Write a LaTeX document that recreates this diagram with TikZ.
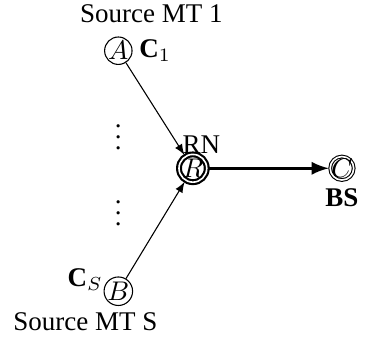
\documentclass[tikz,border=0pt]{standalone}
\usepackage{fontspec}
\setmainfont{Liberation Serif}
\usetikzlibrary{positioning, automata}

\begin{document}
\begin{tikzpicture}[>=latex, every state/.style={minimum size=0pt, inner sep=0pt}]
    \useasboundingbox (0, 0) rectangle (4.75, 4.41);

    % States
    \node[state] (a) at (1.54, 3.75) {$A$};
    \node[state] (b) at (1.54, 0.62) {$B$};
    \node[state, accepting, thick] (r) at (2.51, 2.22) {$R$};
    \node[state, accepting, inner sep=-0.6pt] (c) at (4.45, 2.22) {$C$};

    % Dots
    \node (d1) at (1.54, 2.73) {$\vdots$};
    \node (d2) at (1.54, 1.74) {$\vdots$};

    % Transitions
    \path[->] (a) edge (r);
    \path[->] (b) edge (r);
    \path[->, very thick] (r) edge (c);

    % Labels
    \node (src1) at (1.97, 4.23) {Source MT 1};
    \node (srcS) at (1.11, 0.23) {Source MT S};
    \node[right=-1pt of a] (c1) {$\mathbf{C}_1$};
    \node (cS) at (1.11, 0.77) {$\mathbf{C}_S$};
    \node (rn) at (2.62, 2.53) {RN};
    \node[below=-1pt of c] (bs) {\textbf{BS}};
\end{tikzpicture}
\end{document}
